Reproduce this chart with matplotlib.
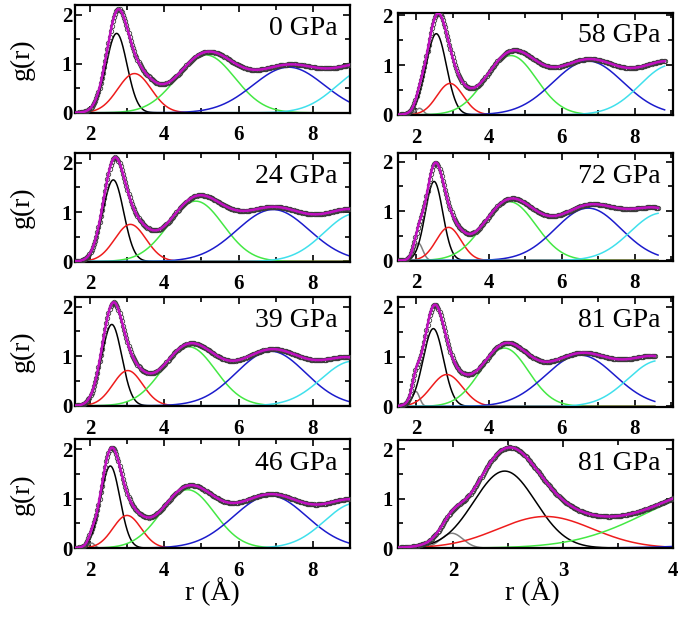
import numpy as np
import matplotlib
matplotlib.use("Agg")
import matplotlib.pyplot as plt
from matplotlib.ticker import MultipleLocator

plt.rcParams["font.family"] = ["Liberation Serif", "DejaVu Serif"]

W, H = 685, 618

# panel labels and r range of the measured g(r)
labels = ["0 GPa", "24 GPa", "39 GPa", "46 GPa", "58 GPa", "72 GPa", "81 GPa", "81 GPa"]
r_lo = [1.6, 1.6, 1.6, 1.6, 1.5, 1.5, 1.5, 1.5]
r_hi = [9.0, 9.0, 9.0, 9.0, 8.82, 8.64, 8.55, 4.0]
x_lims = [(1.6, 9.0)] * 4 + [(1.5, 9.05)] * 3 + [(1.5, 4.0)]
y_tops = [2.2, 2.2, 2.2, 2.2, 2.04, 2.17, 2.2, 2.19]

# gaussian shells (centre, height, sigma):  small, 1st, 2nd, 3rd, 4th, 5th
shells_0 = [(2.0, 0.0, 0.1), (2.72, 1.62, 0.28), (3.2, 0.8, 0.45),
            (5.12, 1.18, 0.78), (7.35, 0.93, 0.96), (9.5, 0.91, 0.85)]
shells_24 = [(2.0, 0.0, 0.1), (2.63, 1.65, 0.28), (3.09, 0.75, 0.42),
             (4.85, 1.22, 0.74), (6.93, 1.05, 0.97), (9.16, 0.97, 0.85)]
shells_39 = [(2.0, 0.0, 0.1), (2.59, 1.64, 0.27), (3.02, 0.71, 0.40),
             (4.66, 1.19, 0.72), (6.87, 1.10, 0.93), (9.08, 0.90, 0.85)]
shells_46 = [(2.05, 0.10, 0.08), (2.55, 1.66, 0.26), (3.0, 0.66, 0.38),
             (4.63, 1.18, 0.72), (6.85, 1.06, 0.98), (9.16, 0.91, 0.84)]
shells_58 = [(2.09, 0.13, 0.10), (2.55, 1.63, 0.28), (2.93, 0.63, 0.36),
             (4.6, 1.19, 0.70), (6.72, 1.08, 0.96), (9.0, 1.0, 0.85)]
shells_72 = [(2.06, 0.35, 0.12), (2.49, 1.60, 0.24), (2.89, 0.67, 0.34),
             (4.56, 1.19, 0.72), (6.72, 1.06, 0.90), (8.73, 0.96, 0.85)]
shells_81 = [(1.99, 0.30, 0.10), (2.47, 1.56, 0.28), (2.84, 0.64, 0.43),
             (4.42, 1.17, 0.66), (6.5, 1.03, 0.95), (8.67, 0.92, 0.85)]
panel_shells = [shells_0, shells_24, shells_39, shells_46,
                shells_58, shells_72, shells_81, shells_81]

shell_colors = ["#808080", "black", "#ee1c1c", "#44e844", "#1c1ccc", "#40e0ec"]

# axes boxes in pixels: (left, top, right, bottom)
boxes = [(75, 5, 350, 113), (75, 152.7, 350, 261.7), (75, 296.7, 350, 406), (75, 439.3, 350, 548.3),
         (398, 13.3, 673, 115), (398, 153.3, 673, 260.7), (398, 296.7, 673, 406.7), (398, 440, 673, 548.3)]


def gauss(r, c, h, s):
    return h * np.exp(-(r - c) ** 2 / (2 * s * s))


fig = plt.figure(figsize=(W / 100, H / 100), dpi=100)

for i, (l, t, rr, b) in enumerate(boxes):
    ax = fig.add_axes([l / W, 1 - b / H, (rr - l) / W, (b - t) / H])
    r = np.arange(r_lo[i], r_hi[i] + 1e-9, 0.005)
    total = np.zeros_like(r)
    for (c, h, s), col in zip(panel_shells[i], shell_colors):
        g = gauss(r, c, h, s)
        total += g
        if h > 0:
            ax.plot(r, g, color=col, lw=1.1, zorder=2)
    step = 2 if i == 7 else 6
    ax.plot(r[::step], total[::step], "o", ms=3.2, mfc="none", mec="#3a3a3a",
            mew=0.6, zorder=3)
    ax.plot(r, total, color="#c010c0", lw=1.8, zorder=4)

    ax.set_xlim(*x_lims[i])
    ax.set_ylim(-0.005, y_tops[i])
    if i == 7:
        ax.xaxis.set_major_locator(MultipleLocator(1))
        ax.xaxis.set_minor_locator(MultipleLocator(0.5))
    else:
        ax.xaxis.set_major_locator(MultipleLocator(2))
        ax.xaxis.set_minor_locator(MultipleLocator(1))
    ax.yaxis.set_major_locator(MultipleLocator(1))
    ax.yaxis.set_minor_locator(MultipleLocator(0.5))
    ax.tick_params(which="both", direction="in", top=True, right=True, width=1.2)
    ax.tick_params(which="major", length=5)
    ax.tick_params(which="minor", length=3.5)
    ax.tick_params(axis="x", pad=9, labelsize=15)
    ax.tick_params(axis="y", pad=2 if i < 4 else 4, labelsize=15)
    for lab in ax.get_xticklabels() + ax.get_yticklabels():
        lab.set_fontweight("bold")
    for sp in ax.spines.values():
        sp.set_linewidth(1.6)
    ax.text(0.955, 0.78, labels[i], transform=ax.transAxes, ha="right", va="center",
            fontsize=20)
    if i < 4:
        fig.text(22 / W, 1 - ((t + b) / 2) / H, "g(r)", rotation=90, ha="center",
                 va="center", fontsize=20)

fig.text(212 / W, 1 - 592 / H, "r (Å)", ha="center", va="center", fontsize=20)
fig.text(532 / W, 1 - 592 / H, "r (Å)", ha="center", va="center", fontsize=20)

fig.savefig("out.png", dpi=100)
